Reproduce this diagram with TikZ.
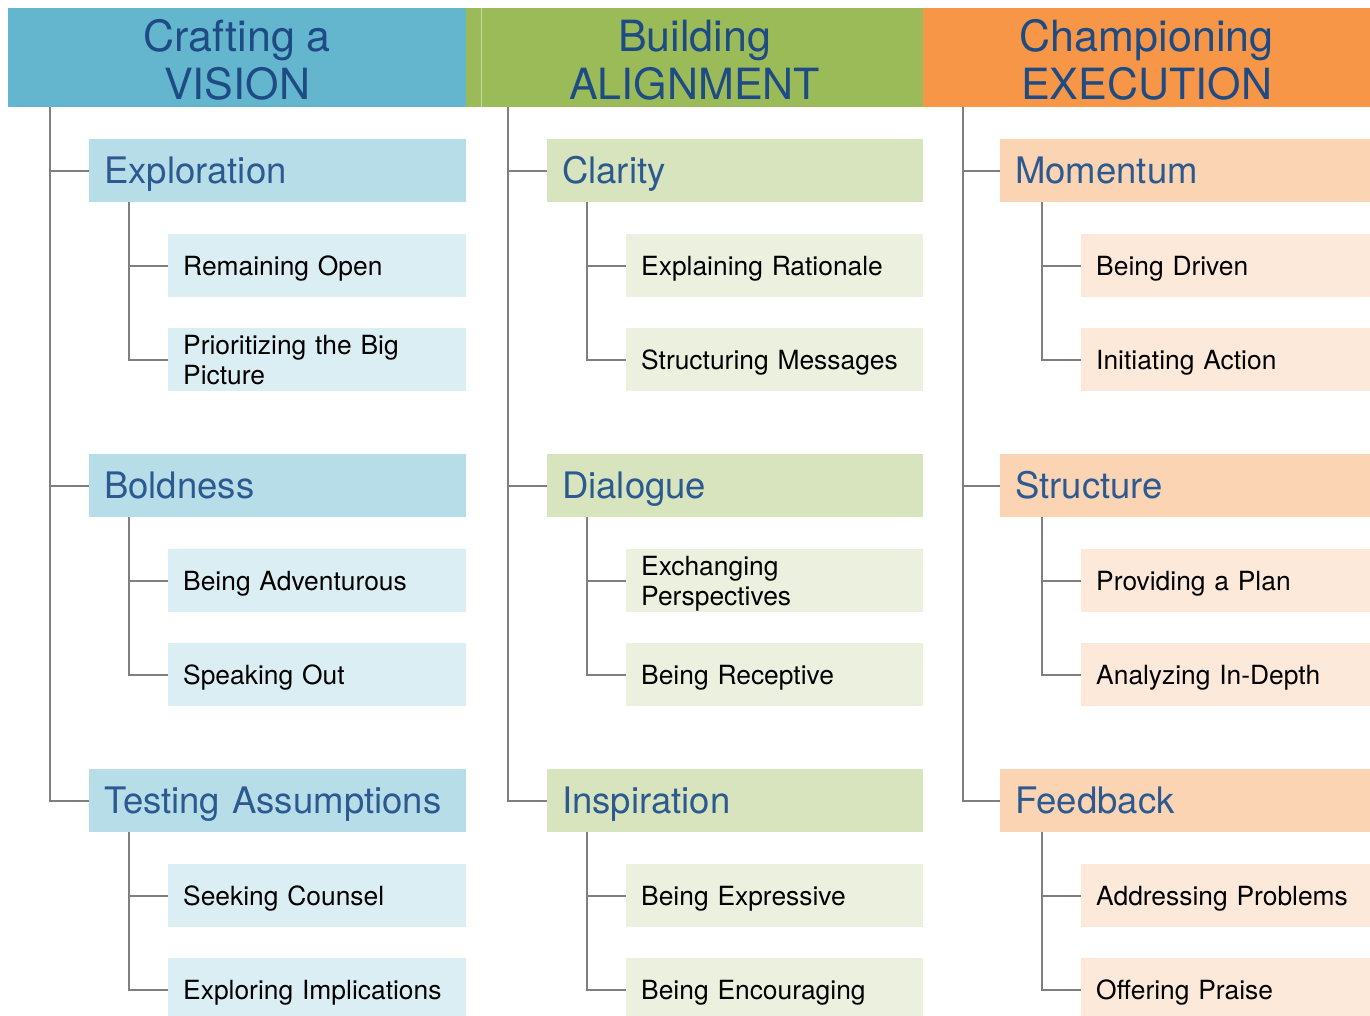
\documentclass[tikz,border=0pt]{standalone}
\usepackage{fontspec}
\setmainfont{TeX Gyre Heros}
\definecolor{hblue}{HTML}{64B5CE}
\definecolor{hgreen}{HTML}{9BBB59}
\definecolor{horange}{HTML}{F79646}
\definecolor{lblue}{HTML}{B7DEE8}
\definecolor{lgreen}{HTML}{D7E4BD}
\definecolor{lorange}{HTML}{FBD4B4}
\definecolor{sblue}{HTML}{DBEEF3}
\definecolor{sgreen}{HTML}{EBF1DE}
\definecolor{sorange}{HTML}{FDE9D9}
\definecolor{htext}{HTML}{1F4B85}
\definecolor{ltext}{HTML}{2C5A90}
\definecolor{connc}{HTML}{7F7F7F}
\tikzset{
  hdr/.style 2 args={fill=#1, anchor=north west, inner sep=0pt, minimum width=#2, minimum height=99pt,
    align=center, text=htext, font=\fontsize{43}{48}\selectfont, text height=83pt, text depth=0pt},
  lvlone/.style 2 args={fill=#1, anchor=north west, inner xsep=15pt, inner ysep=0pt, text width=#2,
    minimum height=63pt, align=left, text=ltext, font=\fontsize{36.5}{42}\selectfont,
    text height=26pt, text depth=0pt},
  lvltwo/.style 2 args={fill=#1, anchor=north west, inner xsep=15pt, inner ysep=0pt, text width=#2,
    minimum height=63pt, align=left, text=black, font=\fontsize{26.4}{30}\selectfont,
    text height=19pt, text depth=0pt},
  twoline/.style={text depth=30pt},
  conn/.style={draw=connc, line width=2pt}
}
\begin{document}
\begin{tikzpicture}[x=1pt,y=-1pt]
\useasboundingbox (0,0) rectangle (1370,1016);
\fill[white] (0,0) rectangle (1370,1016);

% headers
\node[hdr={hblue}{458pt}] (h1) at (8,8) {Crafting a\\VISION};
\node[hdr={hgreen}{457pt}] (h2) at (466,8) {Building\\ALIGNMENT};
\node[hdr={horange}{447pt}] (h3) at (923,8) {Championing\\EXECUTION};
\draw[draw=hgreen!55!white, line width=0.8pt] ([xshift=15pt]h2.north west) -- ([xshift=15pt]h2.south west);

% column 1
\node[lvlone={lblue}{347pt}] (a1) at (89,139) {Exploration};
\node[lvltwo={sblue}{268pt}] (a11) at (168,234) {Remaining Open};
\node[lvltwo={sblue}{268pt}, twoline] (a12) at (168,328) {Prioritizing the Big\\Picture};
\node[lvlone={lblue}{347pt}] (a2) at (89,454) {Boldness};
\node[lvltwo={sblue}{268pt}] (a21) at (168,549) {Being Adventurous};
\node[lvltwo={sblue}{268pt}] (a22) at (168,643) {Speaking Out};
\node[lvlone={lblue}{347pt}] (a3) at (89,769) {Testing Assumptions};
\node[lvltwo={sblue}{268pt}] (a31) at (168,864) {Seeking Counsel};
\node[lvltwo={sblue}{268pt}] (a32) at (168,958) {Exploring Implications};

% column 2
\node[lvlone={lgreen}{346pt}] (b1) at (547,139) {Clarity};
\node[lvltwo={sgreen}{267pt}] (b11) at (626,234) {Explaining Rationale};
\node[lvltwo={sgreen}{267pt}] (b12) at (626,328) {Structuring Messages};
\node[lvlone={lgreen}{346pt}] (b2) at (547,454) {Dialogue};
\node[lvltwo={sgreen}{267pt}, twoline] (b21) at (626,549) {Exchanging\\Perspectives};
\node[lvltwo={sgreen}{267pt}] (b22) at (626,643) {Being Receptive};
\node[lvlone={lgreen}{346pt}] (b3) at (547,769) {Inspiration};
\node[lvltwo={sgreen}{267pt}] (b31) at (626,864) {Being Expressive};
\node[lvltwo={sgreen}{267pt}] (b32) at (626,958) {Being Encouraging};

% column 3
\node[lvlone={lorange}{340pt}] (c1) at (1000,139) {Momentum};
\node[lvltwo={sorange}{259pt}] (c11) at (1081,234) {Being Driven};
\node[lvltwo={sorange}{259pt}] (c12) at (1081,328) {Initiating Action};
\node[lvlone={lorange}{340pt}] (c2) at (1000,454) {Structure};
\node[lvltwo={sorange}{259pt}] (c21) at (1081,549) {Providing a Plan};
\node[lvltwo={sorange}{259pt}] (c22) at (1081,643) {Analyzing In-Depth};
\node[lvlone={lorange}{340pt}] (c3) at (1000,769) {Feedback};
\node[lvltwo={sorange}{259pt}] (c31) at (1081,864) {Addressing Problems};
\node[lvltwo={sorange}{259pt}] (c32) at (1081,958) {Offering Praise};

% trunks
\coordinate (ta) at ([xshift=42pt]h1.south west);
\coordinate (tb) at ([xshift=42pt]h2.south west);
\coordinate (tc) at ([xshift=40pt]h3.south west);
\foreach \k in {1,2,3} {
  \draw[conn] (ta) |- (a\k.west);
  \draw[conn] (tb) |- (b\k.west);
  \draw[conn] (tc) |- (c\k.west);
}
\foreach \k in {1,2,3} {
  \foreach \j in {1,2} {
    \draw[conn] ([xshift=40pt]a\k.south west) |- (a\k\j.west);
    \draw[conn] ([xshift=40pt]b\k.south west) |- (b\k\j.west);
    \draw[conn] ([xshift=42pt]c\k.south west) |- (c\k\j.west);
  }
}
\end{tikzpicture}
\end{document}
